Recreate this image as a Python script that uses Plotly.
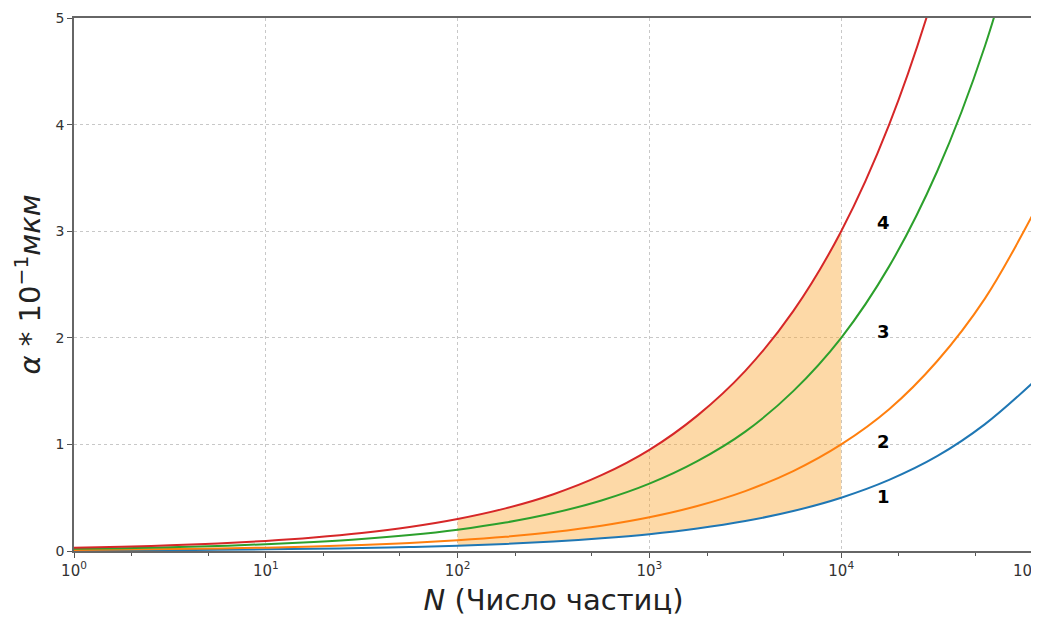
import math
import plotly.graph_objects as go

# Particle number N (quarter-decade readings)
N = [1, 1.778, 3.162, 5.623, 10, 17.78, 31.62, 56.23, 100, 177.8, 316.2, 562.3,
     1000, 1778, 3162, 5623, 10000, 17780, 31620, 56230, 100000]

curve1 = [0.005, 0.0067, 0.0089, 0.0119, 0.0158, 0.0211, 0.0281, 0.0375, 0.05, 0.0667, 0.0889,
          0.119, 0.158, 0.211, 0.281, 0.375, 0.5, 0.667, 0.889, 1.19, 1.58]
curve2 = [0.01, 0.0133, 0.0178, 0.0237, 0.0316, 0.0422, 0.0562, 0.075, 0.1, 0.133, 0.178,
          0.237, 0.316, 0.422, 0.562, 0.75, 1.0, 1.33, 1.78, 2.37, 3.16]
curve3 = [0.02, 0.0267, 0.0356, 0.0474, 0.0632, 0.0843, 0.112, 0.15, 0.2, 0.267, 0.356,
          0.474, 0.632, 0.843, 1.12, 1.5, 2.0, 2.67, 3.56, 4.74, 6.32]
curve4 = [0.03, 0.04, 0.0533, 0.0711, 0.0949, 0.127, 0.169, 0.225, 0.3, 0.4, 0.533,
          0.711, 0.949, 1.27, 1.69, 2.25, 3.0, 4.0, 5.33, 7.11, 9.49]

curve_labels = ["1", "2", "3", "4"]
label_x = [16600, 16600, 16600, 16600]
label_y = [0.51, 1.03, 2.06, 3.08]

shade_from, shade_to = 100, 10000

tick_vals = [1, 10, 100, 1000, 10000, 100000]
tick_text = ["10<sup>0</sup>", "10<sup>1</sup>", "10<sup>2</sup>", "10<sup>3</sup>",
             "10<sup>4</sup>", "10<sup>5</sup>&nbsp;&nbsp;&nbsp;"]

colors = ["#1f77b4", "#ff7f0e", "#2ca02c", "#d62728"]

fig = go.Figure()

idx = [i for i, n in enumerate(N) if shade_from <= n <= shade_to]
fig.add_trace(go.Scatter(x=[N[i] for i in idx], y=[curve1[i] for i in idx],
                         mode="lines", line=dict(width=0, shape="spline"),
                         showlegend=False, hoverinfo="skip"))
fig.add_trace(go.Scatter(x=[N[i] for i in idx], y=[curve4[i] for i in idx],
                         mode="lines", line=dict(width=0, shape="spline"),
                         fill="tonexty", fillcolor="rgba(250,165,45,0.42)",
                         showlegend=False, hoverinfo="skip"))

for ys, c in zip([curve1, curve2, curve3, curve4], colors):
    fig.add_trace(go.Scatter(x=N, y=ys, mode="lines",
                             line=dict(color=c, width=2, shape="spline", smoothing=1),
                             showlegend=False))

for t, x, y in zip(curve_labels, label_x, label_y):
    fig.add_annotation(x=math.log10(x), y=y, xref="x", yref="y", text="<b>%s</b>" % t,
                       showarrow=False, font=dict(size=18, color="black",
                                                  family="DejaVu Sans"))

# the page body adds an 8px offset; margins compensate so the plot area
# lands at x 74..1033, y 18..551 in the window
fig.update_layout(
    width=1039, height=617,
    margin=dict(l=66, r=14, t=10, b=74, autoexpand=False),
    paper_bgcolor="white", plot_bgcolor="white",
    font=dict(family="DejaVu Sans", color="#222"),
    showlegend=False,
)
fig.update_xaxes(
    type="log", range=[0, 5], automargin=False,
    tickvals=tick_vals, ticktext=tick_text, ticklabeloverflow="allow",
    tickfont=dict(size=15, color="#333"),
    ticks="outside", ticklen=5, tickcolor="#555",
    showgrid=True, gridcolor="#c8c8c8", griddash="dot", gridwidth=1,
    showline=True, linecolor="#666", linewidth=1.5, mirror=True,
    minor=dict(ticks="outside", ticklen=3, tickcolor="#555", showgrid=False),
    title=dict(text="<i>N</i> (Число частиц)", font=dict(size=29, color="#222"), standoff=11),
    zeroline=False,
)
fig.update_yaxes(
    range=[0, 5], dtick=1, automargin=False,
    tickfont=dict(size=14, color="#333"),
    ticks="outside", ticklen=5, tickcolor="#555",
    showgrid=True, gridcolor="#c8c8c8", griddash="dot", gridwidth=1,
    showline=True, linecolor="#666", linewidth=1.5, mirror=True,
    title=dict(text="<i>α</i> * 10<sup>−1</sup><i>мкм</i>", font=dict(size=29, color="#222"),
               standoff=6),
    zeroline=False,
)

fig.write_html("out.html")
